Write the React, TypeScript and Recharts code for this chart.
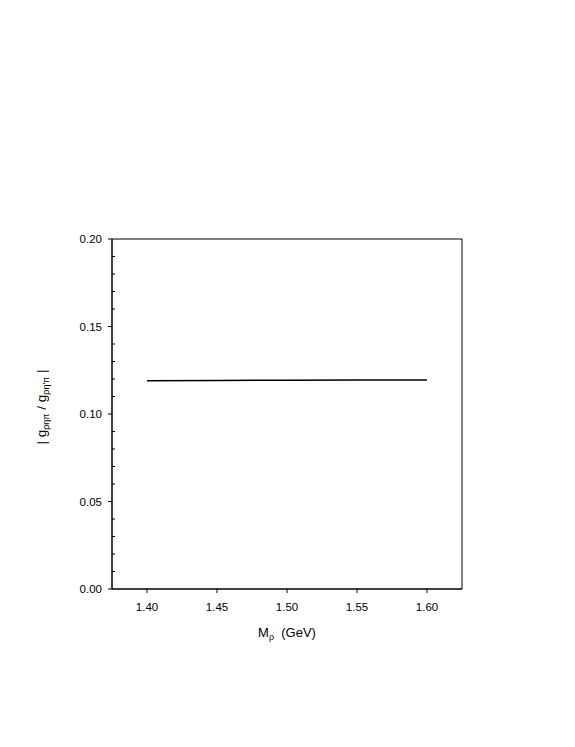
import React from 'react';
import { LineChart, Line, XAxis, YAxis, ReferenceArea } from 'recharts';

const massValues = [1.4, 1.45, 1.5, 1.55, 1.6];
const ratioValues = [0.119, 0.1192, 0.1193, 0.1194, 0.1195];
const xTicks = [1.4, 1.45, 1.5, 1.55, 1.6];
const yMajorTicks = [0, 0.05, 0.1, 0.15, 0.2];
const yAllTicks = [0, 0.01, 0.02, 0.03, 0.04, 0.05, 0.06, 0.07, 0.08, 0.09, 0.1, 0.11, 0.12, 0.13, 0.14, 0.15, 0.16, 0.17, 0.18, 0.19, 0.2];
const xDomain = [1.375, 1.625];
const yDomain = [0, 0.2];

const data = massValues.map((m, i) => ({ m, r: ratioValues[i] }));

const FONT = '"Liberation Sans", Arial, Helvetica, sans-serif';
const Y_TICK_SIZE = 4;
const Y_TICK_MARGIN = 6;
const Y_MINOR_SIZE = 3;

const YTick = (props: any) => {
  const { x, y, payload } = props;
  const v = payload.value;
  const axisX = x + Y_TICK_SIZE + Y_TICK_MARGIN;
  const isMajor = yMajorTicks.some((t) => Math.abs(t - v) < 1e-9);
  if (!isMajor) {
    return <line x1={axisX} x2={axisX + Y_MINOR_SIZE} y1={y} y2={y} stroke="#000" strokeWidth={1} />;
  }
  return (
    <g>
      <line x1={axisX - Y_TICK_SIZE} x2={axisX} y1={y} y2={y} stroke="#000" strokeWidth={1} />
      <text x={x} y={y} dy="0.355em" textAnchor="end" fontFamily={FONT} fontSize={11.5} fill="#000">
        {v.toFixed(2)}
      </text>
    </g>
  );
};

const YLabel = (props: any) => {
  const vb = props.viewBox || { x: 52, y: 239, width: 60, height: 350 };
  const cx = 46;
  const cy = vb.y + vb.height / 2 - 7;
  return (
    <text
      x={cx}
      y={cy}
      transform={`rotate(-90 ${cx} ${cy})`}
      textAnchor="middle"
      fontFamily={FONT}
      fontSize={13.5}
      fill="#000"
    >
      <tspan>| g</tspan>
      <tspan fontSize={9} dy={3}>ρηπ</tspan>
      <tspan dy={-3}> / g</tspan>
      <tspan fontSize={9} dy={3}>ρη'π</tspan>
      <tspan dy={-3}> |</tspan>
    </text>
  );
};

const XLabel = (props: any) => {
  const vb = props.viewBox || { x: 112, y: 589, width: 350, height: 30 };
  const cx = vb.x + vb.width / 2;
  const cy = 637;
  return (
    <text x={cx} y={cy} textAnchor="middle" fontFamily={FONT} fontSize={13} fill="#000">
      <tspan>M</tspan>
      <tspan fontSize={9} dy={3}>ρ</tspan>
      <tspan dy={-3}>{'\u00A0\u00A0(GeV)'}</tspan>
    </text>
  );
};

export default function App() {
  return (
    <div style={{ position: 'absolute', left: 0, top: 0, width: 575, height: 747, background: '#fff' }}>
      <LineChart
        width={575}
        height={747}
        data={data}
        margin={{ top: 239, right: 113, bottom: 128, left: 52 }}
      >
        <XAxis
          dataKey="m"
          type="number"
          domain={xDomain}
          ticks={xTicks}
          tickFormatter={(v: number) => v.toFixed(2)}
          height={30}
          tickSize={4}
          tickMargin={10}
          stroke="#000"
          tick={{ fill: '#000', fontSize: 11.5, fontFamily: FONT }}
          allowDataOverflow
          label={<XLabel />}
        />
        <YAxis
          type="number"
          domain={yDomain}
          ticks={yAllTicks}
          interval={0}
          width={60}
          tickSize={Y_TICK_SIZE}
          tickMargin={Y_TICK_MARGIN}
          tickLine={false}
          stroke="#000"
          tick={<YTick />}
          allowDataOverflow
          label={<YLabel />}
        />
        <ReferenceArea
          x1={xDomain[0]}
          x2={xDomain[1]}
          y1={yDomain[0]}
          y2={yDomain[1]}
          fill="none"
          fillOpacity={0}
          stroke="#000"
          strokeWidth={1}
        />
        <Line
          dataKey="r"
          type="linear"
          stroke="#000"
          strokeWidth={1.5}
          dot={false}
          isAnimationActive={false}
        />
      </LineChart>
    </div>
  );
}
